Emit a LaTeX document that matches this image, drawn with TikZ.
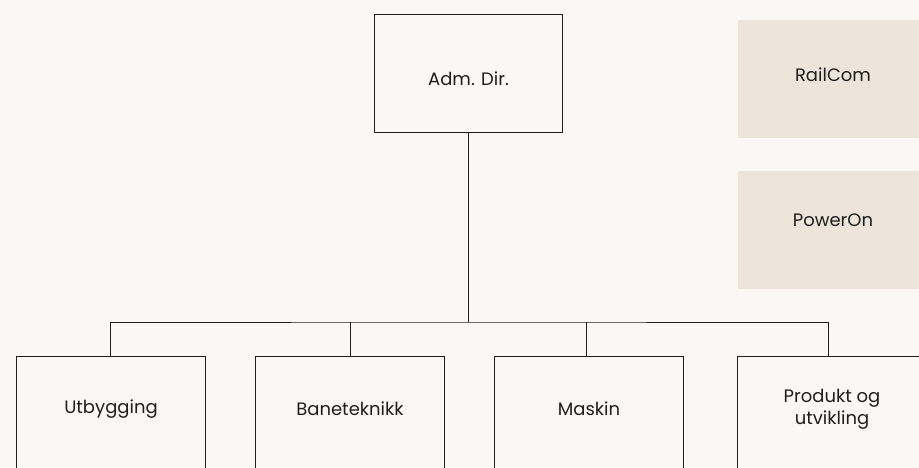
\documentclass[tikz,border=0pt]{standalone}
\usepackage{fontspec}
\setmainfont{Poppins}
\definecolor{orgbg}{RGB}{250,247,244}
\definecolor{orgbeige}{RGB}{237,229,218}
\definecolor{orgline}{RGB}{30,30,30}
\usetikzlibrary{positioning}

\begin{document}
\begin{tikzpicture}[x=1pt, y=-1pt,
    edge/.style={draw=orgline, line width=1pt},
    chief/.style={edge, fill=orgbg, minimum width=188, minimum height=118, font=\fontsize{18}{22}\selectfont, text=orgline},
    unit/.style={minimum width=188, minimum height=104, align=center, font=\fontsize{18}{22}\selectfont, text=orgline},
    sister/.style={fill=orgbeige, minimum width=190, minimum height=118, font=\fontsize{18}{22}\selectfont, text=orgline}]
  %% Background
  \fill[orgbg] (0,0) rectangle (919,468);
  \useasboundingbox (0,0) rectangle (919,468);

  %% Top box
  \node[chief, text height=28pt, text depth=4pt] (adm) at (468.5,74) {Adm. Dir.};

  %% Sister companies
  \node[sister, text height=13pt, text depth=7pt] (rail)  at (833,79)  {RailCom};
  \node[sister, text height=13pt, text depth=20pt] (power) at (833,230) {PowerOn};

  %% Departments
  \node[unit] (utb)  at (111,409) {Utbygging};
  \node[unit] (bane) at (350,409) {Baneteknikk};
  \node[unit] (mask) at (589,409) {Maskin};
  \node[unit] (prod) at (832,409) {Produkt og\\utvikling};
  \foreach \n in {utb,bane,mask,prod}
    \draw[edge] ([yshift=-20pt]\n.south west) -- (\n.north west) -- (\n.north east) -- ([yshift=-20pt]\n.south east);

  %% Connectors
  \coordinate (bus) at (468.5,322);
  \draw[edge] (adm) -- (bus);
  \draw[edge] ([xshift=-1pt]utb.north) |- (bus) -| ([xshift=-4pt]prod.north);
  \draw[edge] (bane.north) -- (bane.north |- bus);
  \draw[edge] ([xshift=-3pt]mask.north) -- ([xshift=-3pt]mask.north |- bus);
\end{tikzpicture}
\end{document}
